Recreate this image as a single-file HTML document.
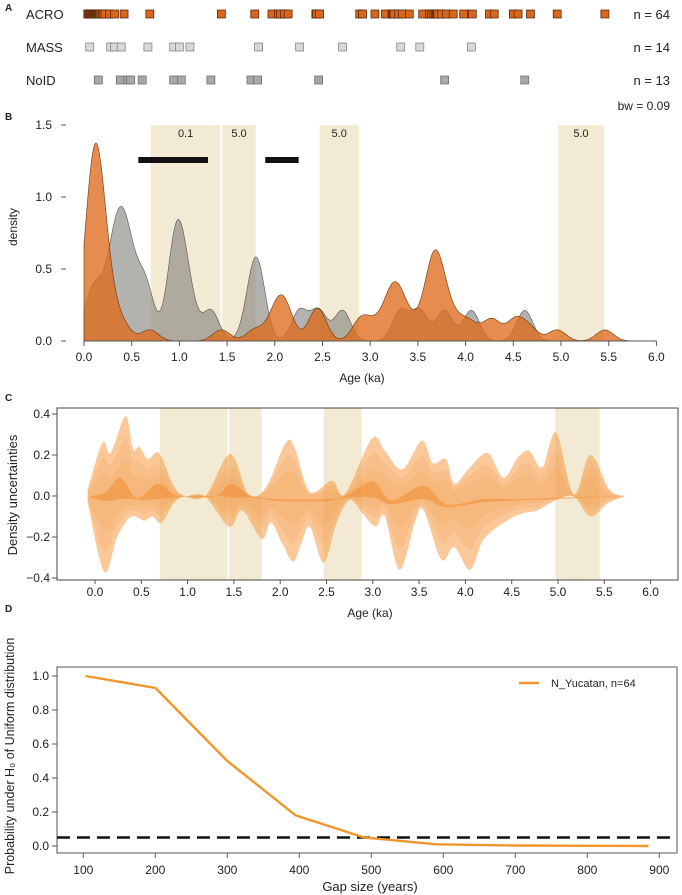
<!DOCTYPE html>
<html><head><meta charset="utf-8"><style>
html,body{margin:0;padding:0;background:#fff;}
svg{display:block;font-family:"Liberation Sans",Arial,sans-serif;}
</style></head><body>
<svg id="fig" width="682" height="895" viewBox="0 0 682 895">
<g id="pa"></g>
<g id="pb"></g>
<g id="pc"></g>
<g id="pd"></g>
</svg>
<script>
// ---------- data ----------
const acroAges=[0.04,0.05,0.06,0.07,0.08,0.09,0.10,0.11,0.11,0.12,0.12,0.13,0.13,0.14,0.15,0.16,0.17,0.19,0.20,0.22,0.27,0.32,0.42,
0.69,1.44,1.79,1.97,2.04,2.06,2.10,2.14,2.43,2.44,2.47,2.89,2.92,3.05,3.16,3.23,3.24,3.25,3.30,3.34,3.41,3.55,3.62,3.64,3.66,3.68,3.69,3.70,3.71,3.75,3.80,3.87,3.98,4.07,4.25,4.30,4.50,4.55,4.68,4.96,5.46];
const massAges=[0.06,0.28,0.32,0.39,0.67,0.94,1.00,1.11,1.83,2.26,2.71,3.32,3.52,4.06];
const noidAges=[0.15,0.38,0.46,0.49,0.61,0.94,1.02,1.33,1.75,1.82,2.46,3.78,4.62];
const bandStarts=[0.70,1.45,2.47,4.97];
const bandEnds=[1.43,1.80,2.88,5.45];
const bandLabels=["0.1","5.0","5.0","5.0"];
const barStarts=[0.57,1.90];
const barEnds=[1.30,2.25];
const bTicksX=[0,0.5,1,1.5,2,2.5,3,3.5,4,4.5,5,5.5,6];
const bTicksY=[0,0.5,1.0,1.5];
const cUpperX=[-0.08,0.08,0.17,0.33,0.41,0.48,0.57,0.69,0.84,0.95,1.19,1.46,1.66,1.85,2.06,2.16,2.32,2.56,2.70,2.99,3.13,3.32,3.53,3.65,3.79,3.88,4.03,4.24,4.41,4.57,4.69,4.83,4.98,5.17,5.35,5.56,5.73];
const cUpperV=[0.03,0.26,0.21,0.39,0.23,0.24,0.18,0.21,0.06,0.005,0,0.205,0.005,0.045,0.26,0.23,0.02,0.075,0.01,0.28,0.22,0.13,0.27,0.16,0.18,0.06,0.13,0.21,0.09,0.19,0.22,0.14,0.31,0.01,0.2,0.03,0];
const cLowerX=[-0.08,0.10,0.24,0.39,0.53,0.62,0.72,0.86,1.00,1.19,1.45,1.59,1.80,1.90,2.02,2.14,2.23,2.32,2.47,2.61,2.75,2.89,3.03,3.13,3.29,3.46,3.55,3.74,3.88,4.05,4.20,4.45,4.62,4.78,4.98,5.17,5.35,5.54,5.73];
const cLowerV=[-0.03,-0.37,-0.2,-0.1,-0.12,-0.1,-0.13,-0.03,0,-0.003,-0.15,-0.07,-0.21,-0.13,-0.23,-0.32,-0.23,-0.15,-0.325,-0.13,-0.02,-0.085,-0.15,-0.1,-0.36,-0.12,-0.07,-0.31,-0.25,-0.36,-0.21,-0.12,-0.085,-0.07,-0.02,-0.003,-0.1,-0.035,0];
const cInnerX=[-0.05,0.12,0.27,0.42,0.5,0.68,0.9,1.3,1.47,1.7,2.0,2.5,2.7,3.0,3.2,3.55,3.8,4.2,4.6,5.0,5.7];
const cInnerUp=[0,0.02,0.09,0,-0.005,0.06,0,0,0.06,0,-0.015,-0.015,0,0.07,-0.02,0.05,-0.04,-0.015,-0.015,-0.008,0];
const cInnerLo=[-0.01,-0.025,-0.015,-0.015,-0.02,-0.015,-0.005,0,-0.008,-0.008,-0.025,-0.025,-0.008,-0.008,-0.04,-0.015,-0.055,-0.03,-0.02,-0.015,0];
const cTicksY=[-0.4,-0.2,0,0.2,0.4];
const gapSizes=[103,200,300,395,490,590,700,800,885];
const gapProb=[1.0,0.93,0.5,0.18,0.05,0.01,0.003,0.001,0.0];
const dTicksX=[100,200,300,400,500,600,700,800,900];
const dTicksY=[0,0.2,0.4,0.6,0.8,1.0];
const alphaLevel=0.05;

// ---------- helpers ----------
const NS="http://www.w3.org/2000/svg";
function mk(parent,tag,attrs,text){const e=document.createElementNS(NS,tag);for(const k in attrs)e.setAttribute(k,attrs[k]);if(text!==undefined)e.textContent=text;parent.appendChild(e);return e;}
function crPath(pts){let d="M"+pts[0][0].toFixed(2)+","+pts[0][1].toFixed(2);for(let i=0;i<pts.length-1;i++){const p0=pts[i-1]||pts[i],p1=pts[i],p2=pts[i+1],p3=pts[i+2]||p2;const c1=[p1[0]+(p2[0]-p0[0])/6,p1[1]+(p2[1]-p0[1])/6];const c2=[p2[0]-(p3[0]-p1[0])/6,p2[1]-(p3[1]-p1[1])/6];d+="C"+c1[0].toFixed(2)+","+c1[1].toFixed(2)+" "+c2[0].toFixed(2)+","+c2[1].toFixed(2)+" "+p2[0].toFixed(2)+","+p2[1].toFixed(2);}return d;}
function kde(ages,bw,grid,n){const c=1/(n*bw*Math.sqrt(2*Math.PI));return grid.map(x=>{let s=0;for(const a of ages){const z=(x-a)/bw;s+=Math.exp(-0.5*z*z);}return s*c;});}
function label(g,x,y,t,name,extra){const e=mk(g,"text",Object.assign({x:x,y:y,"font-size":"12","fill":"#222"},extra||{}),t);return e;}

// ---------- panel A & B scales ----------
const bx=v=>84+95.4*v;
const by=v=>341-144*v;
const pa=document.getElementById("pa");
label(pa,5,11,"A","panel-a-label",{"font-size":"10","font-weight":"bold"});
const rows=[["ACRO",acroAges,14,"#d9661c","#4a1f05","n = 64"],["MASS",massAges,47,"#d8d8d8","#7a7a7a","n = 14"],["NoID",noidAges,80,"#a8a8a8","#666","n = 13"]];
rows.forEach(r=>{
  label(pa,26,r[2]+5,r[0],"row-label-"+r[0].toLowerCase(),{"font-size":"13"});
  label(pa,670,r[2]+5,r[5],"row-count-"+r[0].toLowerCase(),{"font-size":"13","text-anchor":"end"});
  r[1].forEach(a=>{const s=mk(pa,"rect",{x:bx(a)-4,y:r[2]-4,width:8,height:8,fill:r[3],stroke:r[4],"stroke-width":"0.7"});
    
    });
});
label(pa,670,110,"bw = 0.09","bandwidth-label",{"font-size":"12","text-anchor":"end"});

const pb=document.getElementById("pb");
label(pb,5,120,"B","panel-b-label",{"font-size":"10","font-weight":"bold"});
bandStarts.forEach((s,i)=>{const r=mk(pb,"rect",{x:bx(s),y:by(1.5),width:bx(bandEnds[i])-bx(s),height:by(0)-by(1.5),fill:"#f2ead2"});
  
  
  label(pb,(bx(s)+bx(bandEnds[i]))/2,137,bandLabels[i],"gap-band-label",{"font-size":"11","text-anchor":"middle"});});
const grid=[];for(let i=0;i<=600;i++)grid.push(i/100);
const grayAges=massAges.concat(noidAges);
const dg=kde(grayAges,0.085,grid,grayAges.length*0.82);
const dor=kde(acroAges,0.09,grid,acroAges.length*0.9);
function areaPath(vals){let d="M"+bx(0)+","+by(0);grid.forEach((x,i)=>{d+="L"+bx(x).toFixed(2)+","+by(vals[i]).toFixed(2);});d+="L"+bx(6)+","+by(0)+"Z";return d;}
const ga=mk(pb,"path",{d:areaPath(dg),fill:"rgba(128,126,122,0.6)",stroke:"#555","stroke-width":"0.6"});


const oa=mk(pb,"path",{d:areaPath(dor),fill:"rgba(222,108,28,0.78)",stroke:"#6b3510","stroke-width":"0.6"});


barStarts.forEach((s,i)=>{const b=mk(pb,"rect",{x:bx(s),y:157,width:bx(barEnds[i])-bx(s),height:6,fill:"#111"});
  
  });
const bax=mk(pb,"line",{x1:bx(0),y1:341,x2:bx(6),y2:341,stroke:"#555","stroke-width":"1"});


bTicksX.forEach(t=>{mk(pb,"line",{x1:bx(t),y1:341,x2:bx(t),y2:346,stroke:"#555"});label(pb,bx(t),361,t.toFixed(1),"x-tick-label-b",{"text-anchor":"middle"});});
bTicksY.forEach(t=>{mk(pb,"line",{x1:61,y1:by(t),x2:66,y2:by(t),stroke:"#555"});label(pb,52,by(t)+4,t.toFixed(1),"y-tick-label-b",{"text-anchor":"end"});});
label(pb,362,382,"Age (ka)","x-axis-title-b",{"text-anchor":"middle"});
label(pb,0,0,"density","y-axis-title-b",{"text-anchor":"middle","transform":"translate(17,227) rotate(-90)"});

// ---------- panel C ----------
const pc=document.getElementById("pc");
const cx=v=>95+92.6*v;
const cy=v=>496-205*v;
label(pc,5,401,"C","panel-c-label",{"font-size":"10","font-weight":"bold"});
bandStarts.forEach((s,i)=>{const r=mk(pc,"rect",{x:cx(s),y:408,width:cx(bandEnds[i])-cx(s),height:172,fill:"#f2ead2"});
  
  });
function bandPath(up,lo){const lp=crPath(lo);return crPath(up)+"L"+lo[0][0].toFixed(2)+","+lo[0][1].toFixed(2)+lp.slice(lp.indexOf("C"))+"Z";}
[1,0.72,0.45].forEach((f,li)=>{
  const up=cUpperX.map((x,i)=>[cx(x),cy(cUpperV[i]*f)]);
  const lo=cLowerX.map((x,i)=>[cx(x),cy(cLowerV[i]*f)]).reverse();
  const p=mk(pc,"path",{d:bandPath(up,lo),fill:li==0?"rgba(245,155,70,0.55)":"rgba(243,150,60,0.16)"});
  
  
});
{const up=cInnerX.map((x,i)=>[cx(x),cy(cInnerUp[i])]);const lo=cInnerX.map((x,i)=>[cx(x),cy(cInnerLo[i])]).reverse();
 const p=mk(pc,"path",{d:bandPath(up,lo),fill:"rgba(240,140,50,0.55)"});
 
 }
const cbox=mk(pc,"rect",{x:57,y:408,width:621,height:172,fill:"none",stroke:"#444","stroke-width":"1"});


bTicksX.forEach(t=>{mk(pc,"line",{x1:cx(t),y1:580,x2:cx(t),y2:584,stroke:"#555"});label(pc,cx(t),596,t.toFixed(1),"x-tick-label-c",{"text-anchor":"middle"});});
cTicksY.forEach(t=>{mk(pc,"line",{x1:52,y1:cy(t),x2:57,y2:cy(t),stroke:"#555"});label(pc,50,cy(t)+4,t.toFixed(1).replace("-","\u2212"),"y-tick-label-c",{"text-anchor":"end"});});
label(pc,370,617,"Age (ka)","x-axis-title-c",{"text-anchor":"middle"});
label(pc,0,0,"Density uncertainties","y-axis-title-c",{"text-anchor":"middle","font-size":"13","transform":"translate(17,495) rotate(-90)"});

// ---------- panel D ----------
const pd=document.getElementById("pd");
const dx=v=>83.3+0.72*(v-100);
const dy=v=>846-170*v;
label(pd,5,612,"D","panel-d-label",{"font-size":"10","font-weight":"bold"});
const dbox=mk(pd,"rect",{x:57,y:667,width:620,height:186,fill:"none",stroke:"#555","stroke-width":"1"});


const dl=mk(pd,"line",{x1:57,y1:dy(alphaLevel),x2:677,y2:dy(alphaLevel),stroke:"#111","stroke-width":"2.5","stroke-dasharray":"13,7"});


const pl=mk(pd,"polyline",{points:gapSizes.map((g,i)=>dx(g).toFixed(1)+","+dy(gapProb[i]).toFixed(1)).join(" "),fill:"none",stroke:"#f0962a","stroke-width":"2.4","stroke-linejoin":"round"});


dTicksX.forEach(t=>{mk(pd,"line",{x1:dx(t),y1:853,x2:dx(t),y2:858,stroke:"#555"});label(pd,dx(t),874,String(t),"x-tick-label-d",{"text-anchor":"middle"});});
dTicksY.forEach(t=>{mk(pd,"line",{x1:52,y1:dy(t),x2:57,y2:dy(t),stroke:"#555"});label(pd,49,dy(t)+4,t.toFixed(1),"y-tick-label-d",{"text-anchor":"end"});});
label(pd,370,891,"Gap size (years)","x-axis-title-d",{"text-anchor":"middle","font-size":"13"});
label(pd,0,0,"Probability under H\u2080 of Uniform distribution","y-axis-title-d",{"text-anchor":"middle","font-size":"12.5","transform":"translate(14,756) rotate(-90)"});
const lg=mk(pd,"line",{x1:519,y1:683,x2:539,y2:683,stroke:"#f0962a","stroke-width":"2.4"});


label(pd,551,687,"N_Yucatan, n=64","legend-entry",{"font-size":"11"});
</script>
</body></html>
